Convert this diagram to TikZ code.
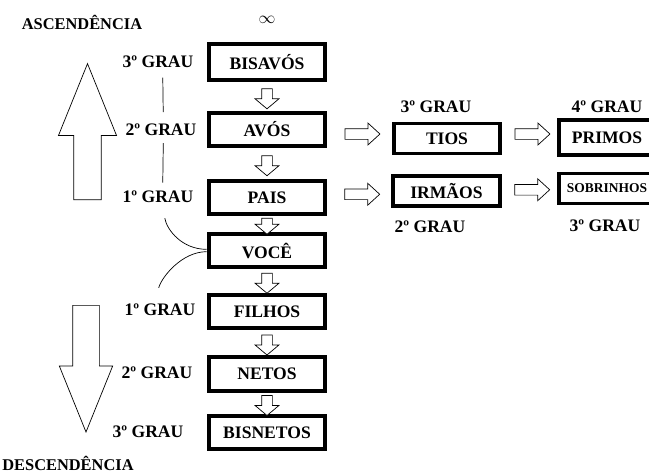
\documentclass[tikz,border=0pt]{standalone}
\usepackage{fontspec}
\setmainfont{Liberation Serif}
\usepackage{tikz}
\usetikzlibrary{calc,positioning,shapes.arrows}

\begin{document}
\begin{tikzpicture}[x=0.03cm,y=-0.03cm,
  every node/.style={align=center,font=\fontsize{15}{17}\selectfont\bfseries},
  kin/.style={draw,line width=3.4pt,minimum width=3.5cm,minimum height=1.0cm,inner sep=0pt},
  sidekin/.style={draw,line width=3.4pt,minimum width=3.2cm,minimum height=0.9cm,inner sep=0pt},
  grau/.style={inner sep=2pt},
  title/.style={font=\fontsize{14}{16}\selectfont\bfseries},
  downstep/.style={single arrow,draw,line width=0.6pt,fill=white,rotate=270,minimum height=0.6cm,inner sep=0.15cm,single arrow head extend=0.2cm,single arrow tip angle=100},
  rightstep/.style={single arrow,draw,line width=0.6pt,fill=white,minimum height=1.05cm,inner sep=0.15cm,single arrow head extend=0.17cm,single arrow tip angle=85},
  bigarrow/.style={single arrow,draw,line width=0.6pt,anchor=tail,inner sep=0.4cm,single arrow head extend=0.46cm,single arrow tip angle=44}]
  \useasboundingbox (0,0) rectangle (649,472);
  % titles
  \node[title] (asc) at (82,22) {ASCENDÊNCIA};
  \node (inf) at (267,20) {$\infty$};
  \node[title] (desc) at (68,463) {DESCENDÊNCIA};
  % big arrows
  \node[bigarrow,rotate=90,minimum height=4.08cm] (up) at (87.5,200) {};
  \node[bigarrow,rotate=270,minimum height=3.8cm,inner sep=0.39cm,single arrow head extend=0.4cm] (down) at (86,305) {};
  % main column
  \node[kin,minimum height=1.1cm] (bisavos) at (267,62) {BISAVÓS};
  \node[kin] (avos) at (267,129.5) {AVÓS};
  \node[kin] (pais) at (267,197.5) {PAIS};
  \node[kin] (voce) at (267,250.5) {VOCÊ};
  \node[kin] (filhos) at (267,311.5) {FILHOS};
  \node[kin] (netos) at (267,374) {NETOS};
  \node[kin] (bisnetos) at (267,432.5) {BISNETOS};
  \node[downstep] (s1) at ($(bisavos.south)!0.5!(avos.north)$) {};
  \node[downstep] (s2) at ($(avos.south)!0.5!(pais.north)$) {};
  \node[downstep,minimum height=0.48cm] (s3) at ($(pais.south)!0.5!(voce.north)$) {};
  \node[downstep] (s4) at ($(voce.south)!0.5!(filhos.north)$) {};
  \node[downstep] (s5) at ($(filhos.south)!0.5!(netos.north)$) {};
  \node[downstep] (s6) at ($(netos.south)!0.5!(bisnetos.north)$) {};
  % side branches
  \node[sidekin] (tios) at (447,138.5) {TIOS};
  \node[sidekin] (irmaos) at (446.5,191) {IRMÃOS};
  \node[sidekin,minimum width=2.9cm,minimum height=1.05cm] (primos) at (607,137.5) {PRIMOS};
  \node[sidekin,minimum width=2.9cm,font=\fontsize{11.5}{13}\selectfont\bfseries] (sobrinhos) at (607,188.5) {SOBRINHOS};
  \node[rightstep] (r1) at ($(avos.east)!0.5!(tios.west)$) {};
  \node[rightstep] (r2) at ($(pais.east)!0.5!(irmaos.west)$) {};
  \node[rightstep] (r3) at ($(tios.east)!0.5!(primos.west)+(0,-4)$) {};
  \node[rightstep] (r4) at ($(irmaos.east)!0.5!(sobrinhos.west)$) {};
  % degrees
  \node[grau] (ga3) at (158,62) {3º GRAU};
  \node[grau] (ga2) at (161,130) {2º GRAU};
  \node[grau] (ga1) at (158,197) {1º GRAU};
  \node[grau] (gd1) at (160,310) {1º GRAU};
  \node[grau] (gd2) at (157,373) {2º GRAU};
  \node[grau] (gd3) at (148,432) {3º GRAU};
  \node[grau] (gt) at (436,107) {3º GRAU};
  \node[grau] (gp) at (607,107) {4º GRAU};
  \node[grau] (gi) at (430,227) {2º GRAU};
  \node[grau] (gs) at (605,226) {3º GRAU};
  \draw[line width=0.6pt,shorten <=6pt,shorten >=8pt] ([xshift=4pt]ga3.south) -- ([xshift=2pt]ga2.north);
  \draw[line width=0.6pt,shorten <=4pt,shorten >=5pt] ([xshift=2pt]ga2.south) -- ([xshift=4pt]ga1.north);
  \draw[line width=0.6pt,shorten <=11pt] ([xshift=4pt]ga1.south) .. controls +(4,24) and +(-25,0) .. ([yshift=1pt]voce.west);
  \draw[line width=0.6pt,shorten >=12pt] ([yshift=-1pt]voce.west) .. controls +(-25,0) and +(6,-24) .. ([xshift=-4pt]gd1.north);
\end{tikzpicture}
\end{document}
